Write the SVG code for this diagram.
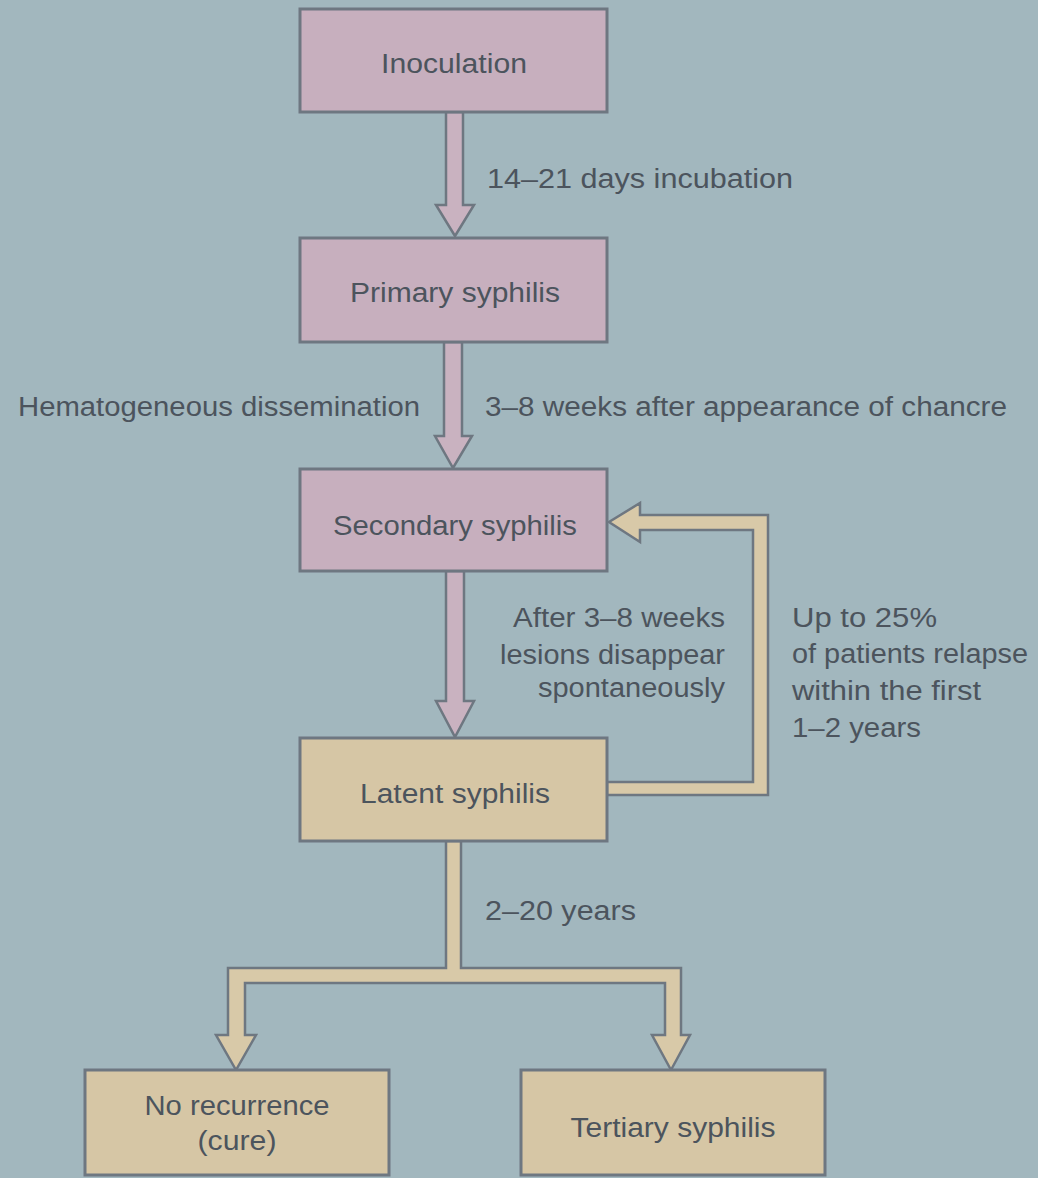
<svg xmlns="http://www.w3.org/2000/svg" width="1038" height="1178" viewBox="0 0 1038 1178">
<style>
.bg{fill:#a2b7be}
.pink{fill:#c7afbe;stroke:#6e7781;stroke-width:3}
.tan{fill:#d6c6a5;stroke:#6e7781;stroke-width:3}
.ap{fill:#c9b2c0;stroke:#6e7781;stroke-width:2.5;stroke-linejoin:miter}
.at{fill:#d8c9a8;stroke:#6e7781;stroke-width:2.5;stroke-linejoin:miter}
text{font-family:"Liberation Sans","Arial",sans-serif;font-size:27px;fill:#4c545d}
.c{text-anchor:middle}
.r{text-anchor:end}
</style>
<rect class="bg" x="0" y="0" width="1038" height="1178"/>
<g id="connectors">
<polygon class="ap" points="446,112 446,205 436,205 455,236 474,205 463,205 463,112"/>
<polygon class="ap" points="444,342 444,436 435,436 453,468 472,436 462,436 462,342"/>
<polygon class="ap" points="446,571 446,701 436,701 455,737 474,701 464,701 464,571"/>
<polygon class="at" points="607,782 753,782 753,530 640,530 640,542 609,522 640,503 640,515 768,515 768,795 607,795"/>
<polygon class="at" points="446,841 446,968 228,968 228,1035 216,1035 236,1070 256,1035 245,1035 245,983 665,983 665,1035 652,1035 671,1070 690,1035 681,1035 681,968 461,968 461,841"/>
<text x="487" y="188" textLength="306" lengthAdjust="spacingAndGlyphs">14–21 days incubation</text>
<text x="18" y="416" textLength="402" lengthAdjust="spacingAndGlyphs">Hematogeneous dissemination</text>
<text x="485" y="416" textLength="522" lengthAdjust="spacingAndGlyphs">3–8 weeks after appearance of chancre</text>
<text x="513" y="627" textLength="212" lengthAdjust="spacingAndGlyphs">After 3–8 weeks</text>
<text x="500" y="664" textLength="225" lengthAdjust="spacingAndGlyphs">lesions disappear</text>
<text x="538" y="697" textLength="187" lengthAdjust="spacingAndGlyphs">spontaneously</text>
<text x="792" y="627" textLength="145" lengthAdjust="spacingAndGlyphs">Up to 25%</text>
<text x="792" y="663" textLength="236" lengthAdjust="spacingAndGlyphs">of patients relapse</text>
<text x="792" y="700" textLength="189" lengthAdjust="spacingAndGlyphs">within the first</text>
<text x="792" y="737" textLength="129" lengthAdjust="spacingAndGlyphs">1–2 years</text>
<text x="485" y="920" textLength="151" lengthAdjust="spacingAndGlyphs">2–20 years</text>
</g>
<g id="inoculation">
<rect class="pink" x="300" y="9" width="307" height="103"/>
<text x="454" y="73" class="c" textLength="146" lengthAdjust="spacingAndGlyphs">Inoculation</text>
</g>
<g id="primary">
<rect class="pink" x="300" y="238" width="307" height="104"/>
<text x="455" y="302" class="c" textLength="210" lengthAdjust="spacingAndGlyphs">Primary syphilis</text>
</g>
<g id="secondary">
<rect class="pink" x="300" y="469" width="307" height="102"/>
<text x="455" y="535" class="c" textLength="244" lengthAdjust="spacingAndGlyphs">Secondary syphilis</text>
</g>
<g id="latent">
<rect class="tan" x="300" y="738" width="307" height="103"/>
<text x="455" y="803" class="c" textLength="190" lengthAdjust="spacingAndGlyphs">Latent syphilis</text>
</g>
<g id="no-recurrence">
<rect class="tan" x="85" y="1070" width="304" height="105"/>
<text x="237" y="1115" class="c" textLength="185" lengthAdjust="spacingAndGlyphs">No recurrence</text>
<text x="237" y="1150" class="c" textLength="79" lengthAdjust="spacingAndGlyphs">(cure)</text>
</g>
<g id="tertiary">
<rect class="tan" x="521" y="1070" width="304" height="105"/>
<text x="673" y="1137" class="c" textLength="205" lengthAdjust="spacingAndGlyphs">Tertiary syphilis</text>
</g>
</svg>
